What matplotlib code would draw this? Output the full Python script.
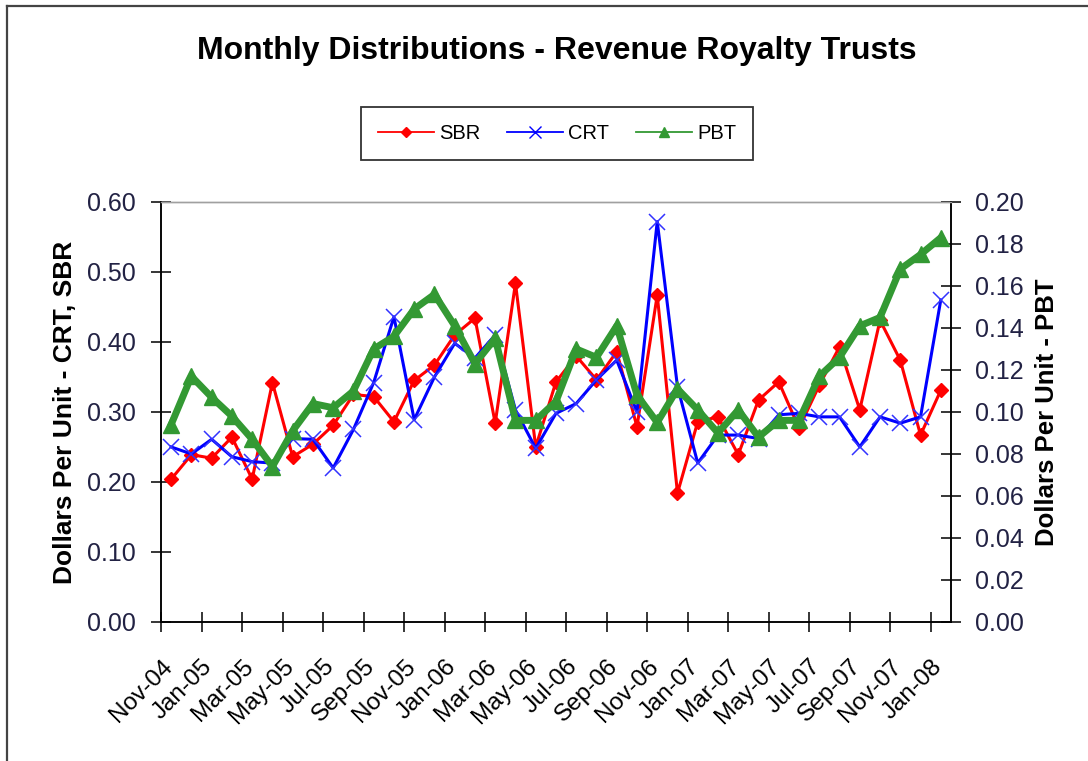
#!/usr/bin/env python3
"""Monthly distributions of three royalty trusts (SBR, CRT on left axis, PBT on right)."""

import matplotlib
matplotlib.use("Agg")
import matplotlib.pyplot as plt
from matplotlib.lines import Line2D
from matplotlib.transforms import ScaledTranslation

plt.rcParams["font.family"] = ["Liberation Sans", "DejaVu Sans"]

# Nov-04 .. Jan-08, one value per month
months = ["Nov-04", "Dec-04", "Jan-05", "Feb-05", "Mar-05", "Apr-05", "May-05",
          "Jun-05", "Jul-05", "Aug-05", "Sep-05", "Oct-05", "Nov-05", "Dec-05",
          "Jan-06", "Feb-06", "Mar-06", "Apr-06", "May-06", "Jun-06", "Jul-06",
          "Aug-06", "Sep-06", "Oct-06", "Nov-06", "Dec-06", "Jan-07", "Feb-07",
          "Mar-07", "Apr-07", "May-07", "Jun-07", "Jul-07", "Aug-07", "Sep-07",
          "Oct-07", "Nov-07", "Dec-07", "Jan-08"]

sbr = [0.204, 0.239, 0.234, 0.264, 0.204, 0.342, 0.236, 0.254, 0.281, 0.325,
       0.322, 0.286, 0.345, 0.367, 0.410, 0.434, 0.284, 0.484, 0.250, 0.343,
       0.380, 0.346, 0.386, 0.279, 0.467, 0.184, 0.286, 0.293, 0.239, 0.317,
       0.343, 0.277, 0.338, 0.393, 0.303, 0.431, 0.374, 0.267, 0.331]

crt = [0.250, 0.240, 0.261, 0.236, 0.229, 0.227, 0.262, 0.261, 0.220, 0.275,
       0.342, 0.436, 0.289, 0.350, 0.398, 0.377, 0.410, 0.303, 0.248, 0.298,
       0.312, 0.346, 0.374, 0.300, 0.572, 0.336, 0.227, 0.267, 0.267, 0.262,
       0.296, 0.298, 0.293, 0.293, 0.250, 0.293, 0.284, 0.293, 0.460]

pbt = [0.094, 0.117, 0.107, 0.098, 0.087, 0.074, 0.091, 0.104, 0.102, 0.110,
       0.130, 0.136, 0.149, 0.156, 0.141, 0.123, 0.135, 0.096, 0.096, 0.105,
       0.130, 0.126, 0.141, 0.108, 0.095, 0.111, 0.101, 0.090, 0.101, 0.088,
       0.096, 0.096, 0.117, 0.126, 0.141, 0.145, 0.168, 0.175, 0.183]

left_ticks = [0.0, 0.1, 0.2, 0.3, 0.4, 0.5, 0.6]
right_ticks = [0.00, 0.02, 0.04, 0.06, 0.08, 0.10, 0.12, 0.14, 0.16, 0.18, 0.20]

RED = "#ff0000"
BLUE = "#0000ff"
GREEN = "#339933"
TICKCOL = "#222244"

x = list(range(len(months)))

fig = plt.figure(figsize=(10.88, 7.61), dpi=100)
ax = fig.add_axes([0.148, 0.1827, 0.726, 0.5519])
ax2 = ax.twinx()

ax.plot(x, sbr, color=RED, lw=2.2, marker="D", ms=7, mec=RED, mew=1)
ax.plot(x, crt, color=BLUE, lw=2.2, marker="x", ms=11, mec="#3333ff", mew=1.1)
ax2.plot(x, pbt, color=GREEN, lw=5, marker="^", ms=12, mec=GREEN, mew=1)

ax.set_xlim(-0.5, len(months) - 0.5)
ax.set_ylim(0, 0.6)
ax2.set_ylim(0, 0.2)

ax.set_yticks(left_ticks)
ax.set_yticklabels([f"{v:.2f}" for v in left_ticks])
ax2.set_yticks(right_ticks)
ax2.set_yticklabels([f"{v:.2f}" for v in right_ticks])

ax.set_xticks([i - 0.5 for i in x[::2]])
ax.set_xticklabels(months[::2], rotation=45, ha="right", va="top",
                   rotation_mode="anchor")
for lab in ax.get_xticklabels():
    lab.set_transform(lab.get_transform()
                      + ScaledTranslation(0.10, 0, fig.dpi_scale_trans))

ax.tick_params(axis="x", direction="inout", length=14, width=1.1, pad=17,
               labelsize=17.5, colors="black")
ax.tick_params(axis="y", direction="inout", length=14, width=1.1, pad=11,
               labelsize=18, labelcolor=TICKCOL)
ax2.tick_params(axis="y", direction="inout", length=14, width=1.1, pad=10,
                labelsize=18, labelcolor=TICKCOL)

for a in (ax, ax2):
    a.spines["top"].set_color("#a0a0a0")
    a.spines["top"].set_linewidth(1.0)
    for s in ("left", "right", "bottom"):
        a.spines[s].set_color("black")
        a.spines[s].set_linewidth(1.1)

ax.set_ylabel("Dollars Per Unit - CRT, SBR", fontsize=19, fontweight="bold",
              labelpad=7)
ax2.set_ylabel("Dollars Per Unit - PBT", fontsize=18.5, fontweight="bold",
               labelpad=8)

fig.text(0.512, 0.933, "Monthly Distributions - Revenue Royalty Trusts",
         ha="center", va="center", fontsize=23, fontweight="bold")

handles = [
    Line2D([], [], color=RED, lw=1.3, marker="D", ms=5, mec=RED),
    Line2D([], [], color=BLUE, lw=1.3, marker="x", ms=8, mew=1),
    Line2D([], [], color=GREEN, lw=1.3, marker="^", ms=7, mec=GREEN),
]
leg = fig.legend(handles, ["SBR", "CRT", "PBT"], loc="center",
                 bbox_to_anchor=(0.512, 0.8246), ncol=3, fontsize=14.5,
                 frameon=True, fancybox=False, shadow=False,
                 handlelength=2.8, handletextpad=0.25, columnspacing=1.3,
                 borderpad=0.85)
leg.get_frame().set_edgecolor("black")
leg.get_frame().set_linewidth(1.3)

# outer chart border (left and top edges visible)
fig.add_artist(Line2D([0.0066, 0.0066], [0, 0.992], color="#444444", lw=1.6,
                      transform=fig.transFigure))
fig.add_artist(Line2D([0.0066, 1.0], [0.992, 0.992], color="#444444", lw=1.6,
                      transform=fig.transFigure))

fig.savefig("out.png", dpi=100)
